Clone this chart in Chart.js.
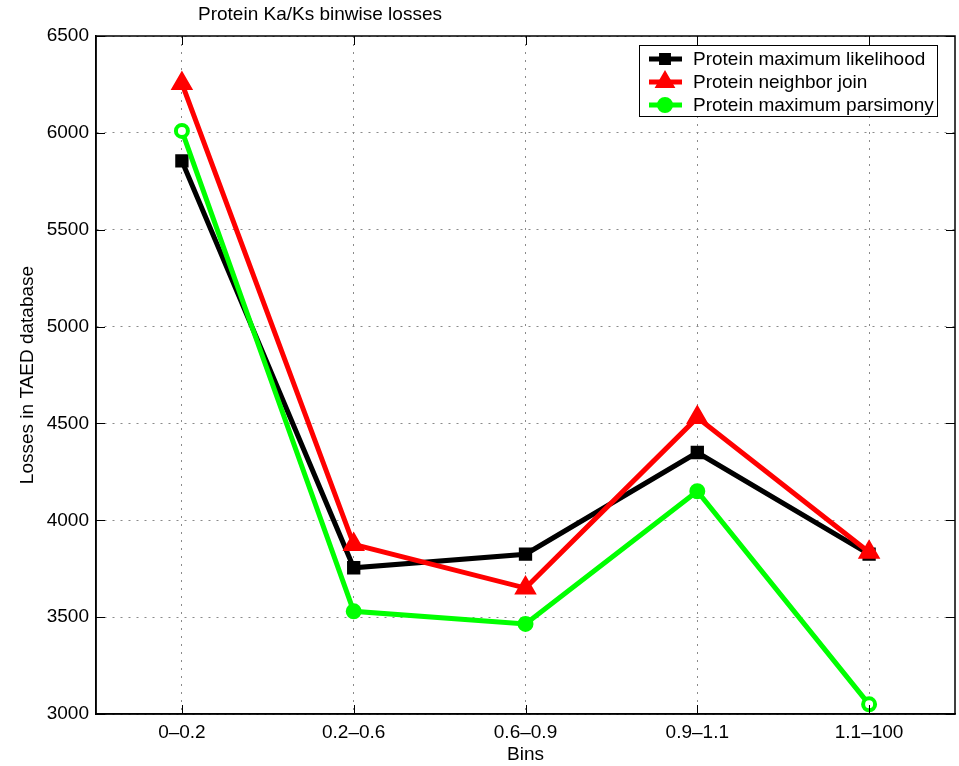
<!DOCTYPE html>
<html>
<head>
<meta charset="utf-8">
<title>Protein Ka/Ks binwise losses</title>
<script src="https://cdn.jsdelivr.net/npm/chart.js@4/dist/chart.umd.min.js"></script>
<style>
    html, body { margin: 0; padding: 0; background: #fff; }
    #wrap { width: 959px; height: 766px; }
</style>
</head>
<body>
<div id="wrap"><canvas id="lossChart" width="959" height="766"></canvas></div>
<script>
// Chart data
const bins = ['0–0.2', '0.2–0.6', '0.6–0.9', '0.9–1.1', '1.1–100'];
const maxLikelihood = [5855, 3755, 3825, 4350, 3825];
const neighborJoin = [6255, 3875, 3650, 4530, 3835];
const maxParsimony = [6010, 3530, 3465, 4150, 3050];
const yTicks = [3000, 3500, 4000, 4500, 5000, 5500, 6000, 6500];

const FONT = 'Liberation Sans, Arial, Helvetica, sans-serif';

// Box round the plot plus inward ticks, MATLAB style
const framePlugin = {
    id: 'frame',
    afterDatasetsDraw(chart) {
        const { ctx, chartArea: a, scales } = chart;
        ctx.save();
        ctx.strokeStyle = '#000';
        ctx.lineWidth = 1;
        const tick = 9;
        ctx.beginPath();
        scales.x.ticks.forEach((t, i) => {
            const px = Math.round(scales.x.getPixelForTick(i)) + 0.5;
            ctx.moveTo(px, a.bottom); ctx.lineTo(px, a.bottom - tick);
            ctx.moveTo(px, a.top); ctx.lineTo(px, a.top + tick);
        });
        scales.y.ticks.forEach((t, i) => {
            const py = Math.round(scales.y.getPixelForTick(i)) + 0.5;
            ctx.moveTo(a.left, py); ctx.lineTo(a.left + tick, py);
            ctx.moveTo(a.right, py); ctx.lineTo(a.right - tick, py);
        });
        ctx.stroke();
        ctx.lineWidth = 1.5;
        ctx.strokeRect(a.left, a.top, a.right - a.left, a.bottom - a.top);
        ctx.restore();
    }
};

// Title sits left of centre in the original
const titlePlugin = {
    id: 'plotTitle',
    afterDraw(chart) {
        const ctx = chart.ctx;
        ctx.save();
        ctx.font = '19px ' + FONT;
        ctx.fillStyle = '#000';
        ctx.textAlign = 'left';
        ctx.textBaseline = 'middle';
        ctx.fillText('Protein Ka/Ks binwise losses', 198, 15);
        ctx.restore();
    }
};

// Boxed legend in the top right corner
const legendPlugin = {
    id: 'boxLegend',
    afterDraw(chart) {
        const ctx = chart.ctx;
        const box = { x: 639, y: 45, w: 298, h: 71 };
        ctx.save();
        ctx.fillStyle = '#fff';
        ctx.fillRect(box.x, box.y, box.w, box.h);
        ctx.strokeStyle = '#000';
        ctx.lineWidth = 1;
        ctx.strokeRect(box.x + 0.5, box.y + 0.5, box.w, box.h);

        chart.data.datasets.forEach((ds, i) => {
            const y = 59 + i * 23;
            ctx.strokeStyle = ds.borderColor;
            ctx.lineWidth = 5;
            ctx.beginPath();
            ctx.moveTo(649, y);
            ctx.lineTo(682, y);
            ctx.stroke();
            ctx.fillStyle = ds.borderColor;
            ctx.lineWidth = 2;
            Chart.helpers.drawPoint(ctx, {
                pointStyle: ds.pointStyle,
                radius: ds.legendRadius,
                borderWidth: 2
            }, 665, y);
            ctx.fillStyle = '#000';
            ctx.font = '19px ' + FONT;
            ctx.textAlign = 'left';
            ctx.textBaseline = 'middle';
            ctx.fillText(ds.label, 693, y + 1);
        });
        ctx.restore();
    }
};

new Chart(document.getElementById('lossChart'), {
    type: 'line',
    data: {
        labels: bins,
        datasets: [{
            label: 'Protein maximum likelihood',
            data: maxLikelihood,
            borderColor: '#000000',
            backgroundColor: '#000000',
            pointStyle: 'rect',
            pointRadius: 8,
            pointBorderWidth: 2,
            legendRadius: 7,
            borderWidth: 5,
            order: 2
        }, {
            label: 'Protein neighbor join',
            data: neighborJoin,
            borderColor: '#ff0000',
            backgroundColor: '#ff0000',
            pointStyle: 'triangle',
            pointRadius: 11,
            pointBorderWidth: 2,
            legendRadius: 10,
            borderWidth: 5,
            order: 1
        }, {
            label: 'Protein maximum parsimony',
            data: maxParsimony,
            borderColor: '#00ff00',
            backgroundColor: '#00ff00',
            pointBackgroundColor: ['#ffffff', '#00ff00', '#00ff00', '#00ff00', '#ffffff'],
            pointStyle: 'circle',
            pointRadius: 6,
            pointBorderWidth: 4,
            legendRadius: 7,
            borderWidth: 5,
            order: 0
        }]
    },
    options: {
        responsive: false,
        animation: false,
        events: [],
        layout: {
            autoPadding: false,
            padding: { left: 0, top: 36, right: 4, bottom: 0 }
        },
        plugins: {
            legend: { display: false },
            title: { display: false },
            tooltip: { enabled: false }
        },
        elements: { line: { tension: 0 } },
        scales: {
            x: {
                offset: true,
                grid: {
                    color: '#8a8a8a',
                    lineWidth: 1,
                    drawTicks: false,
                    offset: false
                },
                border: { display: true, color: '#000', width: 1.5, dash: [2, 6] },
                ticks: {
                    color: '#000',
                    padding: 7,
                    font: { family: FONT, size: 19 },
                    maxRotation: 0
                },
                title: {
                    display: true,
                    text: 'Bins',
                    color: '#000',
                    font: { family: FONT, size: 19 },
                    padding: { top: 0, bottom: 0 }
                },
                afterFit(scale) {
                    scale.height = 52;
                    scale.paddingLeft = 0;
                    scale.paddingRight = 0;
                }
            },
            y: {
                min: 3000,
                max: 6500,
                afterBuildTicks(scale) {
                    scale.ticks = yTicks.map(v => ({ value: v }));
                },
                grid: {
                    color: '#8a8a8a',
                    lineWidth: 1,
                    drawTicks: false
                },
                border: { display: true, color: '#000', width: 1.5, dash: [2, 6] },
                ticks: {
                    color: '#000',
                    padding: 7,
                    font: { family: FONT, size: 19 },
                    callback: v => String(v)
                },
                title: {
                    display: true,
                    text: 'Losses in TAED database',
                    color: '#000',
                    font: { family: FONT, size: 19 },
                    padding: { top: 16, bottom: 0 }
                },
                afterFit(scale) {
                    scale.width = 96;
                    scale.paddingTop = 0;
                    scale.paddingBottom = 0;
                }
            }
        }
    },
    plugins: [framePlugin, titlePlugin, legendPlugin]
});
</script>
</body>
</html>
